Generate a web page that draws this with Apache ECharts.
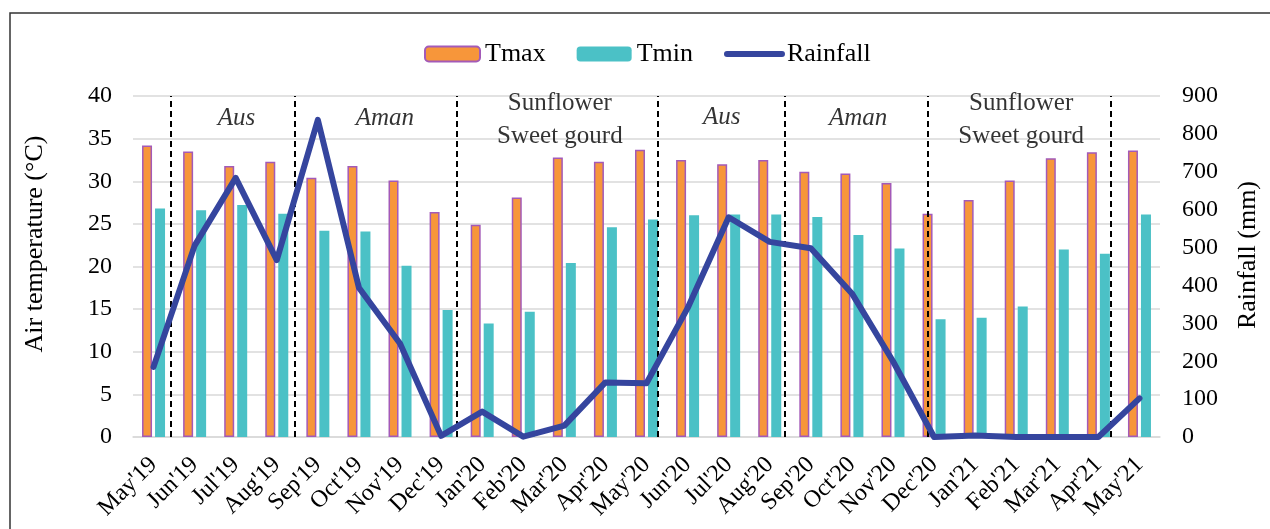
<!DOCTYPE html>
<html>
<head>
<meta charset="utf-8">
<script src="https://cdn.jsdelivr.net/npm/echarts@6/dist/echarts.min.js"></script>
<style>
html,body{margin:0;padding:0;background:#fff;}
#chart{width:1270px;height:529px;}
</style>
</head>
<body>
<div id="chart"></div>
<script>
const months = ["May'19","Jun'19","Jul'19","Aug'19","Sep'19","Oct'19","Nov'19","Dec'19","Jan'20","Feb'20","Mar'20","Apr'20","May'20","Jun'20","Jul'20","Aug'20","Sep'20","Oct'20","Nov'20","Dec'20","Jan'21","Feb'21","Mar'21","Apr'21","May'21"];
const tmax = [34.2,33.5,31.8,32.3,30.4,31.8,30.1,26.4,24.9,28.1,32.8,32.3,33.7,32.5,32.0,32.5,31.1,30.9,29.8,26.2,27.8,30.1,32.7,33.4,33.6];
const tmin = [26.8,26.6,27.2,26.2,24.2,24.1,20.1,14.9,13.3,14.7,20.4,24.6,25.5,26.0,26.1,26.1,25.8,23.7,22.1,13.8,14.0,15.3,22.0,21.5,26.1];
const rainfall = [185,505,684,467,837,394,247,3,67,1,30,144,142,340,580,515,498,379,200,0,4,0,0,0,102];
// season dividers, in category units along the axis (0 = left edge, 25 = right edge)
const dividers = [0.92,3.93,7.88,12.77,15.87,19.35,23.81];
// season labels: position along axis, temperature level, text, italic
const seasonX = [2.52,6.13,10.39,14.33,17.65,21.62];
const seasonY = [37.4,37.4,37.2,37.5,37.4,37.2];
const seasonText = ["Aus","Aman","Sunflower\nSweet gourd","Aus","Aman","Sunflower\nSweet gourd"];
const seasonItalic = [true,true,false,true,true,false];
const tempTicks = {min:0,max:40,interval:5};
const rainTicks = {min:0,max:900,interval:100};

const FONT = "'Liberation Serif','Times New Roman',serif";
const chart = echarts.init(document.getElementById('chart'));
const grid = {left:133,right:110,top:96,bottom:92};

chart.setOption({
  animation:false,
  backgroundColor:'#fff',
  textStyle:{fontFamily:FONT,color:'#000'},
  graphic:[
    {type:'rect',shape:{x:10,y:13,width:1300,height:600},style:{fill:'none',stroke:'#333',lineWidth:1.5},z:-1},
    {type:'text',x:35,y:244,rotation:Math.PI/2,style:{text:'Air temperature (°C)',font:"26px "+FONT,fill:'#000',align:'center',verticalAlign:'middle'}},
    {type:'text',x:1248,y:255,rotation:Math.PI/2,style:{text:'Rainfall (mm)',font:"26px "+FONT,fill:'#000',align:'center',verticalAlign:'middle'}}
  ],
  legend:{
    left:419,top:36,
    data:['Tmax','Tmin',{name:'Rainfall',itemStyle:{opacity:0},lineStyle:{width:6,cap:'round',color:'#35459e'}}],
    itemWidth:55,itemHeight:15,itemGap:31,
    textStyle:{fontFamily:FONT,fontSize:26,color:'#000'}
  },
  grid:grid,
  xAxis:[
    {type:'category',data:months,
     axisLine:{lineStyle:{color:'#d9d9d9',width:1.5}},
     axisTick:{show:false},
     axisLabel:{rotate:45,margin:24,interval:0,fontFamily:FONT,fontSize:24,color:'#000'}},
    {type:'value',min:0,max:25,show:false}
  ],
  yAxis:[
    {type:'value',min:tempTicks.min,max:tempTicks.max,interval:tempTicks.interval,
     axisLine:{show:false},axisTick:{show:false},
     splitLine:{lineStyle:{color:'#d9d9d9',width:1.5}},
     axisLabel:{margin:21,fontFamily:FONT,fontSize:24,color:'#000'}},
    {type:'value',min:rainTicks.min,max:rainTicks.max,interval:rainTicks.interval,
     axisLine:{show:false},axisTick:{show:false},splitLine:{show:false},
     axisLabel:{margin:22,fontFamily:FONT,fontSize:24,color:'#000'}}
  ],
  series:[
    {name:'Tmax',type:'bar',data:tmax,barWidth:10,barGap:'30%',
     itemStyle:{color:'#f7963a',borderColor:'#a35ab8',borderWidth:1.5}},
    {name:'Tmin',type:'bar',data:tmin,barWidth:10,
     itemStyle:{color:'#4bc1c6'}},
    {name:'Rainfall',type:'line',yAxisIndex:1,data:rainfall,symbol:'none',showSymbol:false,z:5,
     lineStyle:{color:'#35459e',width:6,cap:'round',join:'round'},
     itemStyle:{color:'#35459e'}},
    {name:'seasons',type:'scatter',xAxisIndex:1,yAxisIndex:0,symbolSize:0,silent:true,z:4,
     data:seasonX.map((x,i)=>({value:[x,seasonY[i]],
        label:{show:true,position:'inside',formatter:seasonText[i],
          fontFamily:FONT,fontSize:25,color:'#000',lineHeight:33,
          fontStyle:seasonItalic[i]?'italic':'normal'}})),
     markLine:{symbol:'none',silent:true,label:{show:false},
       lineStyle:{color:'#000',type:[6,4],width:2},
       data:dividers.map(x=>({xAxis:x}))}}
  ]
});
</script>
</body>
</html>
